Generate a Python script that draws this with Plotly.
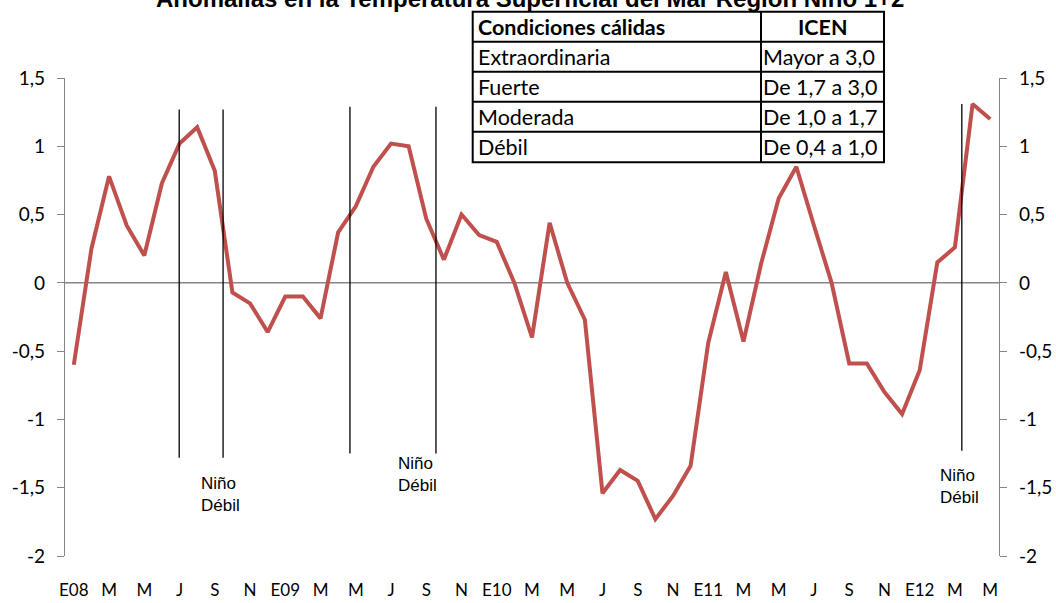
import plotly.graph_objects as go

# ---------------- data ----------------
meses = ["E08","F","M","A","M","J","J","A","S","O","N","D",
         "E09","F","M","A","M","J","J","A","S","O","N","D",
         "E10","F","M","A","M","J","J","A","S","O","N","D",
         "E11","F","M","A","M","J","J","A","S","O","N","D",
         "E12","F","M","A","M"]
anomalias = [-0.60, 0.25, 0.78, 0.42, 0.20, 0.73, 1.02, 1.14, 0.82, -0.07, -0.15, -0.36,
             -0.10, -0.10, -0.26, 0.37, 0.56, 0.85, 1.02, 1.00, 0.47, 0.17, 0.50, 0.35,
             0.30, 0.00, -0.40, 0.44, 0.00, -0.27, -1.54, -1.37, -1.45, -1.73, -1.56, -1.34,
             -0.44, 0.08, -0.43, 0.14, 0.62, 0.85, 0.42, 0.00, -0.59, -0.59, -0.80, -0.96,
             -0.64, 0.15, 0.26, 1.31, 1.20]
y_ticks = [-2, -1.5, -1, -0.5, 0, 0.5, 1, 1.5]
y_ticktext = ["-2", "-1,5", "-1", "-0,5", "0", "0,5", "1", "1,5"]

# event marker lines (position in month index, bottom, top)
lineas_x = [5.98, 8.47, 15.67, 20.55, 50.39]
lineas_y0 = [-1.28, -1.28, -1.25, -1.25, -1.23]
lineas_y1 = [1.27, 1.27, 1.29, 1.29, 1.31]

etiquetas_x = [7.1, 18.29, 49.05]
etiquetas_y = [-1.55, -1.40, -1.49]
etiqueta_texto = "Niño<br>Débil"

tabla_cab = ["Condiciones cálidas", "ICEN"]
tabla_col1 = ["Extraordinaria", "Fuerte", "Moderada", "Débil"]
tabla_col2 = ["Mayor a 3,0", "De 1,7 a 3,0", "De 1,0 a 1,7", "De 0,4 a 1,0"]

titulo = "Anomalías en la Temperatura Superficial del Mar Región Niño 1+2"

# ---------------- layout geometry ----------------
W, H = 1056, 603
ML, MR, MT, MB = 65, 57, 78, 47
PW, PH = W - ML - MR, H - MT - MB

def px(xp):
    return (xp - ML) / PW

def py(yp):
    return (H - MB - yp) / PH

idx = list(range(len(meses)))
tickvals = idx[::2]
ticktext = meses[::2]

red = "#C0504D"
grey = "#868686"
font_lbl = "Lato, Liberation Sans, Arial"

fig = go.Figure()
fig.add_trace(go.Scatter(x=idx, y=anomalias, mode="lines",
                         line=dict(color=red, width=4), hoverinfo="skip",
                         showlegend=False))
fig.add_trace(go.Scatter(x=idx, y=anomalias, mode="lines", yaxis="y2",
                         line=dict(color=red, width=0), opacity=0,
                         hoverinfo="skip", showlegend=False))

shapes = [dict(type="line", xref="paper", yref="y", x0=0, x1=1, y0=0, y1=0,
               line=dict(color=grey, width=1.5), layer="below")]
for x, y0, y1 in zip(lineas_x, lineas_y0, lineas_y1):
    shapes.append(dict(type="line", xref="x", yref="y", x0=x, x1=x, y0=y0, y1=y1,
                       line=dict(color="black", width=1.3), layer="above"))

# table
tx0, tx1, tdiv = 472.7, 884, 761
trows = [11.7, 41.7, 71.7, 101.7, 131.7, 162.3]
shapes.append(dict(type="rect", xref="paper", yref="paper",
                   x0=px(tx0), x1=px(tx1), y0=py(trows[-1]), y1=py(trows[0]),
                   fillcolor="white", line=dict(color="black", width=2), layer="above"))
for r in trows[1:-1]:
    shapes.append(dict(type="line", xref="paper", yref="paper",
                       x0=px(tx0), x1=px(tx1), y0=py(r), y1=py(r),
                       line=dict(color="black", width=2), layer="above"))
shapes.append(dict(type="line", xref="paper", yref="paper",
                   x0=px(tdiv), x1=px(tdiv), y0=py(trows[-1]), y1=py(trows[0]),
                   line=dict(color="black", width=2), layer="above"))

annotations = []
annotations.append(dict(text="<b>" + titulo + "</b>", xref="paper", yref="paper",
                        x=px(530), y=py(-1.5), xanchor="center", yanchor="middle",
                        showarrow=False, font=dict(family="Liberation Sans, Arial", size=24, color="black")))
tfs = 21.5
centers = [(trows[i] + trows[i + 1]) / 2 for i in range(5)]
annotations.append(dict(text="<b>" + tabla_cab[0] + "</b>", xref="paper", yref="paper",
                        x=px(tx0 + 3), y=py(centers[0]), xanchor="left", yanchor="middle",
                        showarrow=False, font=dict(family=font_lbl, size=tfs, color="black")))
annotations.append(dict(text="<b>" + tabla_cab[1] + "</b>", xref="paper", yref="paper",
                        x=px((tdiv + tx1) / 2), y=py(centers[0]), xanchor="center", yanchor="middle",
                        showarrow=False, font=dict(family=font_lbl, size=tfs, color="black")))
for i, (a, b) in enumerate(zip(tabla_col1, tabla_col2)):
    annotations.append(dict(text=a, xref="paper", yref="paper",
                            x=px(tx0 + 3), y=py(centers[i + 1]), xanchor="left", yanchor="middle",
                            showarrow=False, font=dict(family=font_lbl, size=tfs, color="black")))
    annotations.append(dict(text=b, xref="paper", yref="paper",
                            x=px(tdiv), y=py(centers[i + 1]), xanchor="left", yanchor="middle",
                            showarrow=False, font=dict(family=font_lbl, size=tfs, color="black")))

for x, y in zip(etiquetas_x, etiquetas_y):
    annotations.append(dict(text=etiqueta_texto, xref="x", yref="y", x=x, y=y,
                            xanchor="left", yanchor="middle", align="left", showarrow=False,
                            font=dict(family="Liberation Sans, Arial", size=17, color="black")))

yax = dict(range=[-2, 1.5], tickvals=y_ticks, ticktext=y_ticktext, automargin=False,
           showgrid=False, zeroline=False, showline=True, linecolor=grey, linewidth=1.2,
           ticks="outside", ticklen=7, tickcolor=grey, tickwidth=1.2,
           ticklabelstandoff=8,
           tickfont=dict(family=font_lbl, size=19, color="black"))

fig.update_layout(
    width=W, height=H,
    margin=dict(l=ML, r=MR, t=MT, b=MB, pad=0, autoexpand=False),
    paper_bgcolor="white", plot_bgcolor="white",
    showlegend=False,
    xaxis=dict(range=[-0.5, len(meses) - 0.5], tickvals=tickvals, ticktext=ticktext,
               automargin=False,
               showgrid=False, zeroline=False, showline=False, ticks="",
               ticklabelstandoff=22,
               tickfont=dict(family=font_lbl, size=17, color="black")),
    yaxis=dict(**yax, side="left"),
    yaxis2=dict(**yax, side="right", overlaying="y"),
    shapes=shapes,
    annotations=annotations,
)

fig.write_html("out.html", config={"displayModeBar": False},
               post_script="document.body.style.margin='0px';document.body.style.padding='0px';")
